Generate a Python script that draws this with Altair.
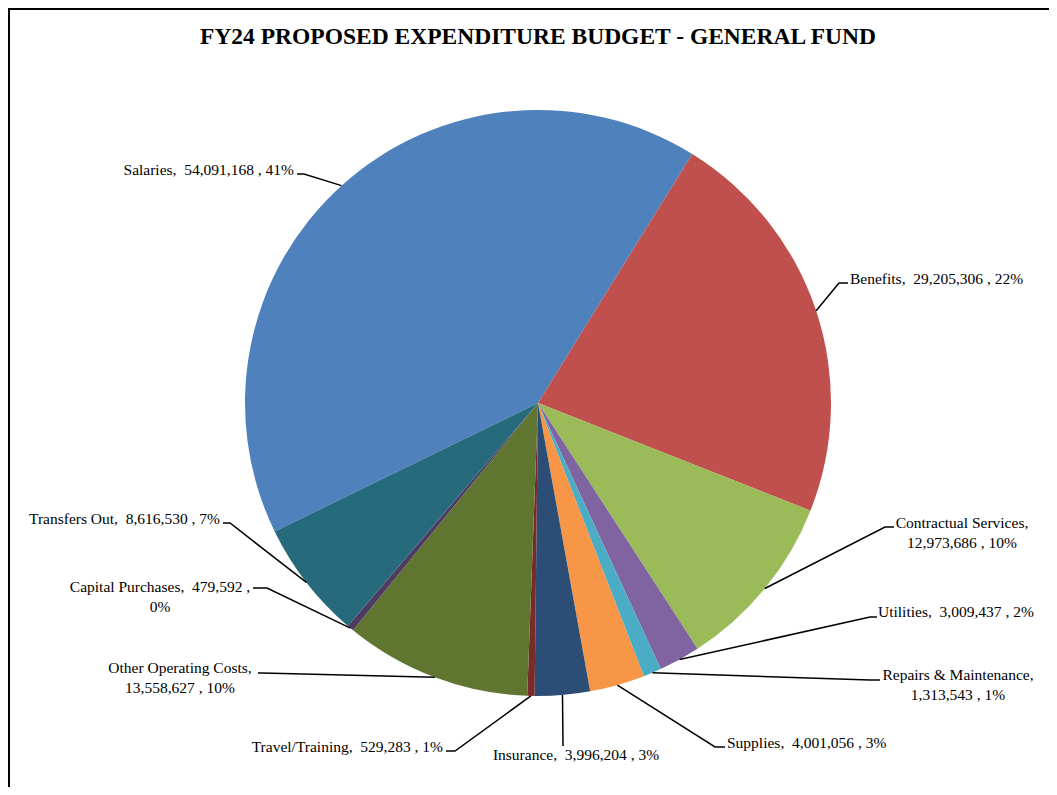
import math
import altair as alt
import pandas as pd

# ---------------- data ----------------
categories = ["Salaries", "Benefits", "Contractual Services", "Utilities",
              "Repairs & Maintenance", "Supplies", "Insurance", "Travel/Training",
              "Other Operating Costs", "Capital Purchases", "Transfers Out"]
values = [54091168, 29205306, 12973686, 3009437, 1313543, 4001056,
          3996204, 529283, 13558627, 479592, 8616530]
pct_labels = [41, 22, 10, 2, 1, 3, 3, 1, 10, 0, 7]
colors = ["#4F81BD", "#C0504D", "#9BBB59", "#8064A2", "#4BACC6", "#F79646",
          "#2C4D75", "#772C2A", "#5F7530", "#4D3B62", "#276A7C"]
title_text = "FY24 PROPOSED EXPENDITURE BUDGET - GENERAL FUND"

# ---------------- layout (page pixels) ----------------
OFF = 8
CX, CY, R = 538 - OFF, 403 - OFF, 293
START_DEG = 244.0
FONT = "Liberation Serif"
FS = 15.5
LH = 20
W, H = 1041, 779

# text x, first-line y, align, line break ("name" / "pct" / None), elbow, attach
label_layout = [
    (294, 170, "right", None, (304, 174), (297, 174)),
    (850, 279, "left", None, (839, 283), (848, 283)),
    (962, 523, "center", "name", (885, 527), (894, 527)),
    (878, 612, "left", None, (870, 617), (877, 617)),
    (958, 675, "center", "name", (870, 680), (880, 680)),
    (727, 743, "left", None, (715, 747), (725, 747)),
    (576, 755, "center", None, (563, 746), (563, 746)),
    (443, 747, "right", None, (455, 751), (446, 751)),
    (180, 668, "center", "name", (262, 673), (258, 673)),
    (160, 587, "center", "pct", (267, 588), (253, 588)),
    (220, 519, "right", None, (230, 523), (223, 523)),
]

total = sum(values)
pie_df = pd.DataFrame({"category": categories, "value": values,
                       "idx": list(range(len(categories)))})

text_rows = []
line_rows = []
cum = 0
for i, (name, v, p) in enumerate(zip(categories, values, pct_labels)):
    tx, ty, align, brk, elbow, attach = label_layout[i]
    vs = f"{v:,}"
    if brk == "name":
        lines = [f"{name},", f"{vs} , {p}%"]
    elif brk == "pct":
        lines = [f"{name},\u00a0 {vs} ,", f"{p}%"]
    else:
        lines = [f"{name},\u00a0 {vs} , {p}%"]
    for k, ln in enumerate(lines):
        text_rows.append({"t": ln, "x": tx - OFF, "y": ty - OFF + k * LH, "align": align})
    mid = math.radians(START_DEG + 360.0 * (cum + v / 2.0) / total)
    cum += v
    p0 = (CX + R * math.sin(mid), CY - R * math.cos(mid))
    pts = [p0, (elbow[0] - OFF, elbow[1] - OFF), (attach[0] - OFF, attach[1] - OFF)]
    for k, (px, py) in enumerate(pts):
        line_rows.append({"category": name, "o": k, "x": px, "y": py})

text_df = pd.DataFrame(text_rows)
line_df = pd.DataFrame(line_rows)

a0 = math.radians(START_DEG)
pie = alt.Chart(pie_df).mark_arc(radius=R, stroke=None).encode(
    theta=alt.Theta("value:Q", stack=True, scale=alt.Scale(range=[a0, a0 + 2 * math.pi])),
    color=alt.Color("category:N", scale=alt.Scale(domain=categories, range=colors), legend=None),
    order=alt.Order("idx:Q"),
    x=alt.value(CX),
    y=alt.value(CY),
)

leaders = alt.Chart(line_df).mark_line(color="black", strokeWidth=1.5).encode(
    x=alt.X("x:Q", scale=None, axis=None),
    y=alt.Y("y:Q", scale=None, axis=None),
    detail="category:N",
    order="o:Q",
)

def text_layer(al):
    return alt.Chart(text_df[text_df["align"] == al]).mark_text(
        align=al, baseline="middle", font=FONT, fontSize=FS, color="black"
    ).encode(
        x=alt.X("x:Q", scale=None, axis=None),
        y=alt.Y("y:Q", scale=None, axis=None),
        text="t:N",
    )

title_df = pd.DataFrame({"t": [title_text]})
title = alt.Chart(title_df).mark_text(
    align="center", baseline="middle", font=FONT, fontSize=23.5, fontWeight="bold", color="black"
).encode(x=alt.value(538 - OFF), y=alt.value(37 - OFF), text="t:N")

frame_top = alt.Chart(title_df).mark_rule(color="black", strokeWidth=2).encode(
    x=alt.value(0), x2=alt.value(W), y=alt.value(1))
frame_left = alt.Chart(title_df).mark_rule(color="black", strokeWidth=2).encode(
    x=alt.value(1), y=alt.value(0), y2=alt.value(H))

chart = alt.layer(
    pie, leaders, text_layer("left"), text_layer("right"), text_layer("center"),
    title, frame_top, frame_left
).properties(
    width=W, height=H, padding=0, autosize=alt.AutoSizeParams(type="none")
).configure_view(stroke=None)

chart.save("out.html", embed_options={"renderer": "svg", "actions": False})
